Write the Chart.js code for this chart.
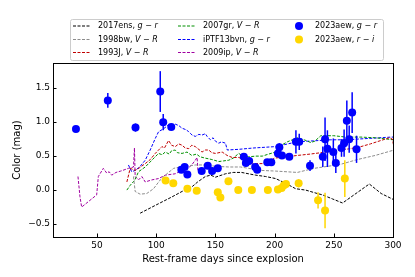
<!DOCTYPE html>
<html>
<head>
<meta charset="utf-8">
<script src="https://cdn.jsdelivr.net/npm/chart.js@4.4.1/dist/chart.umd.min.js"></script>
<style>
  body { margin: 0; background: #fff; }
  #wrap { width: 415px; height: 277px; }
</style>
</head>
<body>
<div id="wrap"><canvas id="grafico" width="415" height="277"></canvas></div>
<script>
// comparison objects (dashed curves)
const ens17X = [86.4, 102, 113.3, 121.8, 130.3, 135, 141.5, 146, 150, 158.5, 165, 172, 184, 192.4, 200.8, 209.3, 217.8, 226.3, 236, 240.4, 248.9, 257.4, 280, 290, 300.5];
const ens17Y = [-0.34, -0.20, -0.10, -0.02, 0.05, 0.12, 0.20, 0.22, 0.19, 0.24, 0.26, 0.26, 0.22, 0.20, 0.17, 0.10, 0.02, 0.0, -0.05, -0.07, -0.13, -0.19, 0.09, -0.05, -0.14];

const bw98X = [80.8, 82.2, 86.4, 92, 97.7, 103.4, 109, 114.7, 120, 126, 133, 141.5, 150, 161.3, 171.2, 178.2, 188.1, 200.8, 219.2, 233.3, 245, 255.9, 270, 285, 301];
const bw98Y = [0.20, -0.02, -0.06, -0.05, 0.02, 0.15, 0.24, 0.32, 0.34, 0.35, 0.37, 0.37, 0.35, 0.34, 0.34, 0.32, 0.29, 0.28, 0.26, 0.32, 0.35, 0.38, 0.45, 0.51, 0.59];

const j93X = [75.2, 78, 82.2, 86, 90.7, 95, 99.2, 104.8, 107, 110.4, 113, 116.1, 119, 121.8, 124.5, 127.4, 130, 133, 138.7, 141.5, 144.3, 147, 150, 155.7, 159.9, 164.2, 169.7, 175.4, 182.5, 189.6, 196.6, 199.4, 210, 219.2, 230, 239, 247, 255.9, 264, 272.9, 281, 289.8, 297, 299.5, 301];
const j93Y = [0.12, 0.32, 0.29, 0.33, 0.39, 0.45, 0.54, 0.64, 0.62, 0.73, 0.66, 0.64, 0.68, 0.66, 0.62, 0.61, 0.66, 0.64, 0.56, 0.59, 0.59, 0.55, 0.54, 0.56, 0.51, 0.48, 0.48, 0.44, 0.39, 0.39, 0.42, 0.47, 0.49, 0.51, 0.53, 0.55, 0.57, 0.59, 0.61, 0.64, 0.68, 0.73, 0.77, 0.75, 0.61];

const gr07X = [75.2, 78, 82, 85, 90.7, 96.3, 102, 105, 107.6, 111, 113, 116, 118, 121.8, 126, 130, 134, 137, 141.5, 147, 152.8, 157, 161.3, 165, 169.7, 173, 178.2, 184, 189.6, 195, 200.8, 203.7, 210.7, 215, 219.2, 225, 230.5, 234, 239, 250, 260.2, 272.9, 285, 300.5];
const gr07Y = [0.0, 0.07, 0.15, 0.27, 0.34, 0.44, 0.54, 0.52, 0.56, 0.53, 0.58, 0.59, 0.55, 0.54, 0.56, 0.51, 0.53, 0.49, 0.47, 0.45, 0.42, 0.43, 0.44, 0.47, 0.54, 0.50, 0.49, 0.50, 0.50, 0.53, 0.56, 0.64, 0.71, 0.74, 0.77, 0.74, 0.70, 0.72, 0.80, 0.80, 0.78, 0.78, 0.77, 0.74];

const bvnX = [76.5, 79.3, 82.2, 86, 90.7, 94.9, 99.2, 102, 106, 110.4, 113, 116.1, 119, 121.8, 125, 127.4, 130.3, 133, 136, 138.7, 141.5, 143, 145.8, 148, 150, 152.8, 155, 158.5, 160, 169.7, 182.5, 200.8, 219, 247.5, 260.2, 298.3, 300.5];
const bvnY = [0.37, 0.27, 0.29, 0.34, 0.44, 0.59, 0.76, 0.86, 0.90, 0.96, 0.94, 0.97, 0.95, 0.91, 0.89, 0.86, 0.81, 0.79, 0.82, 0.81, 0.83, 0.79, 0.74, 0.77, 0.72, 0.69, 0.71, 0.69, 0.59, 0.60, 0.62, 0.64, 0.71, 0.74, 0.74, 0.78, 0.78];

const ip09X = [33.9, 35.6, 37, 49.7, 51.1, 55.3, 58.2, 60.2, 62.4, 66, 70, 76.5, 80.8, 81.6, 82.2, 85, 87.9, 90.7, 96.3, 102, 107.6, 116, 121.8, 126, 130, 133, 134.5, 135.3];
const ip09Y = [0.20, -0.10, -0.25, -0.07, 0.20, 0.32, 0.25, 0.27, 0.22, 0.26, 0.28, 0.32, 0.34, 0.62, 0.20, 0.15, 0.20, 0.12, 0.15, 0.17, 0.22, 0.24, 0.29, 0.31, 0.37, 0.44, 0.48, 0.27];

// 2023aew, g-r
const grX = [32.2, 59.1, 82.5, 103.4, 105.9, 112.7, 121.2, 124, 126.3, 138.4, 143.5, 147.2, 152, 174, 175.7, 178.5, 183.6, 185.3, 193.8, 197.2, 202.8, 204, 206.2, 212.4, 218, 220.8, 229.9, 240.7, 242.6, 244.6, 249.6, 251.7, 256.5, 258.7, 261, 263, 265.5, 269.2];
const grY = [0.90, 1.32, 0.92, 1.45, 1.00, 0.93, 0.30, 0.34, 0.23, 0.28, 0.36, 0.28, 0.32, 0.49, 0.40, 0.43, 0.34, 0.30, 0.41, 0.41, 0.54, 0.63, 0.51, 0.49, 0.71, 0.71, 0.36, 0.49, 0.75, 0.61, 0.56, 0.40, 0.62, 0.69, 1.02, 0.75, 1.14, 0.60];
const grErr = [0.04, 0.11, 0.06, 0.30, 0.12, 0.03, 0.03, 0.03, 0.03, 0.03, 0.03, 0.03, 0.03, 0.03, 0.03, 0.03, 0.03, 0.03, 0.03, 0.03, 0.04, 0.06, 0.04, 0.04, 0.17, 0.12, 0.08, 0.15, 0.32, 0.27, 0.20, 0.15, 0.13, 0.20, 0.30, 0.20, 0.30, 0.20];

// 2023aew, r-i
const riX = [107.9, 114.4, 126.3, 134.2, 152, 154.2, 161, 169.3, 180.8, 194.3, 202.8, 205.9, 207.9, 209.6, 220.3, 236.7, 242.6, 259.3];
const riY = [0.14, 0.10, 0.02, -0.01, -0.03, -0.11, 0.13, 0.0, 0.0, 0.0, 0.01, 0.03, 0.07, 0.09, 0.10, -0.15, -0.30, 0.17];
const riErr = [0.03, 0.03, 0.03, 0.03, 0.03, 0.03, 0.03, 0.03, 0.03, 0.03, 0.03, 0.03, 0.03, 0.03, 0.06, 0.12, 0.26, 0.27];

const xTicks = [50, 100, 150, 200, 250, 300];
const yTicks = [-0.5, 0.0, 0.5, 1.0, 1.5];

const FONT = '"DejaVu Sans", "Liberation Sans", sans-serif';
const colores = ['#000000', '#8c8c8c', '#c00000', '#009000', '#0000ff', '#a000a0', '#0000ff', '#ffd700'];

function pts(xs, ys) {
    return xs.map((x, i) => ({ x: x, y: ys[i] }));
}

function curva(label, xs, ys, color) {
    return {
        label: label,
        data: pts(xs, ys),
        showLine: true,
        borderColor: color,
        backgroundColor: color,
        borderWidth: 1,
        borderDash: [3, 1.5],
        pointRadius: 0,
        fill: false,
        tension: 0,
        order: 2
    };
}

function puntos(label, xs, ys, err, color) {
    return {
        label: label,
        data: pts(xs, ys),
        yErr: err,
        showLine: false,
        backgroundColor: color,
        borderColor: color,
        pointRadius: 4,
        pointBorderWidth: 0,
        order: 1
    };
}

// legend entries: [dataset index, column, row, label pieces [text, italic]]
const leyenda = [
    [0, 0, 0, [['2017ens, ', 0], ['g', 1], [' \u2212 ', 0], ['r', 1]]],
    [1, 0, 1, [['1998bw, ', 0], ['V', 1], [' \u2212 ', 0], ['R', 1]]],
    [2, 0, 2, [['1993J, ', 0], ['V', 1], [' \u2212 ', 0], ['R', 1]]],
    [3, 1, 0, [['2007gr, ', 0], ['V', 1], [' \u2212 ', 0], ['R', 1]]],
    [4, 1, 1, [['iPTF13bvn, ', 0], ['g', 1], [' \u2212 ', 0], ['r', 1]]],
    [5, 1, 2, [['2009ip, ', 0], ['V', 1], [' \u2212 ', 0], ['R', 1]]],
    [6, 2, 0, [['2023aew, ', 0], ['g', 1], [' \u2212 ', 0], ['r', 1]]],
    [7, 2, 1, [['2023aew, ', 0], ['r', 1], [' \u2212 ', 0], ['i', 1]]]
];

const errorBars = {
    id: 'errorBars',
    beforeDatasetDraw(chart, args) {
        const ds = chart.data.datasets[args.index];
        if (!ds.yErr) return;
        const xs = chart.scales.x, ys = chart.scales.y, ca = chart.chartArea;
        const ctx = chart.ctx;
        ctx.save();
        ctx.beginPath();
        ctx.rect(ca.left, ca.top, ca.right - ca.left, ca.bottom - ca.top);
        ctx.clip();
        ctx.strokeStyle = colores[args.index];
        ctx.lineWidth = 1.5;
        ds.data.forEach((p, i) => {
            const px = xs.getPixelForValue(p.x);
            ctx.beginPath();
            ctx.moveTo(px, ys.getPixelForValue(p.y - ds.yErr[i]));
            ctx.lineTo(px, ys.getPixelForValue(p.y + ds.yErr[i]));
            ctx.stroke();
        });
        ctx.restore();
    }
};

const marco = {
    id: 'marco',
    afterDatasetsDraw(chart) {
        const ctx = chart.ctx, ca = chart.chartArea;
        ctx.save();
        ctx.setLineDash([]);
        ctx.strokeStyle = '#000';
        ctx.lineWidth = 1;
        ctx.strokeRect(Math.round(ca.left) + 0.5, Math.round(ca.top) + 0.5,
            Math.round(ca.right - ca.left), Math.round(ca.bottom - ca.top));
        ctx.beginPath();
        xTicks.forEach(v => {
            const px = Math.round(chart.scales.x.getPixelForValue(v)) + 0.5;
            ctx.moveTo(px, ca.bottom);
            ctx.lineTo(px, ca.bottom - 3.5);
        });
        yTicks.forEach(v => {
            const py = Math.round(chart.scales.y.getPixelForValue(v)) + 0.5;
            ctx.moveTo(ca.left, py);
            ctx.lineTo(ca.left + 3.5, py);
        });
        ctx.stroke();
        ctx.restore();
    }
};

const leyendaPlugin = {
    id: 'leyendaPlugin',
    afterDraw(chart) {
        const ctx = chart.ctx;
        const colX = [73, 178, 299];
        const textX = [98, 203, 315];
        const rowY = [26, 39.5, 52.5];
        ctx.save();
        ctx.setLineDash([]);
        ctx.fillStyle = 'rgba(255,255,255,0.8)';
        ctx.strokeStyle = '#cccccc';
        ctx.lineWidth = 1;
        ctx.beginPath();
        ctx.roundRect(70.5, 19.5, 313, 41, 2);
        ctx.fill();
        ctx.stroke();
        leyenda.forEach(([idx, c, r, parts]) => {
            const ds = chart.data.datasets[idx];
            const y = rowY[r];
            if (ds.showLine) {
                ctx.save();
                ctx.strokeStyle = colores[idx];
                ctx.lineWidth = 1.2;
                ctx.setLineDash([3, 1.5]);
                ctx.beginPath();
                ctx.moveTo(colX[c], y);
                ctx.lineTo(colX[c] + 17, y);
                ctx.stroke();
                ctx.restore();
            } else {
                ctx.fillStyle = colores[idx];
                ctx.beginPath();
                ctx.arc(colX[c], y, 4, 0, Math.PI * 2);
                ctx.fill();
            }
            let x = textX[c];
            ctx.fillStyle = '#000';
            ctx.textBaseline = 'middle';
            parts.forEach(([txt, it]) => {
                ctx.font = (it ? 'italic ' : '') + '8px ' + FONT;
                ctx.fillText(txt, x, y);
                x += ctx.measureText(txt).width;
            });
        });
        ctx.restore();
    }
};

function menos(v) {
    return String(v).replace('-', '\u2212');
}

var ctx = document.getElementById('grafico');
var myChart = new Chart(ctx, {
    type: 'scatter',
    data: {
        datasets: [
            curva('2017ens, g-r', ens17X, ens17Y, colores[0]),
            curva('1998bw, V-R', bw98X, bw98Y, colores[1]),
            curva('1993J, V-R', j93X, j93Y, colores[2]),
            curva('2007gr, V-R', gr07X, gr07Y, colores[3]),
            curva('iPTF13bvn, g-r', bvnX, bvnY, colores[4]),
            curva('2009ip, V-R', ip09X, ip09Y, colores[5]),
            puntos('2023aew, g-r', grX, grY, grErr, colores[6]),
            puntos('2023aew, r-i', riX, riY, riErr, colores[7])
        ]
    },
    options: {
        responsive: false,
        animation: false,
        devicePixelRatio: 1,
        layout: { padding: { top: 63, right: 22, bottom: 0, left: 0 } },
        plugins: {
            legend: { display: false },
            tooltip: { enabled: false }
        },
        scales: {
            x: {
                type: 'linear',
                min: 12.8,
                max: 300,
                afterBuildTicks: s => { s.ticks = xTicks.map(v => ({ value: v })); },
                afterFit: s => { s.height = 40; },
                grid: { display: false, drawTicks: false },
                border: { display: false },
                ticks: {
                    padding: 3,
                    color: '#000',
                    font: { family: FONT, size: 9 },
                    maxRotation: 0,
                    callback: v => menos(v)
                },
                title: {
                    display: true,
                    text: 'Rest-frame days since explosion',
                    color: '#000',
                    font: { family: FONT, size: 10 },
                    padding: { top: 0, bottom: 12 }
                }
            },
            y: {
                type: 'linear',
                min: -0.69,
                max: 1.87,
                afterBuildTicks: s => { s.ticks = yTicks.map(v => ({ value: v })); },
                afterFit: s => { s.width = 53; },
                grid: { display: false, drawTicks: false },
                border: { display: false },
                ticks: {
                    padding: 3,
                    color: '#000',
                    font: { family: FONT, size: 9 },
                    callback: v => menos(v.toFixed(1))
                },
                title: {
                    display: true,
                    text: 'Color (mag)',
                    color: '#000',
                    font: { family: FONT, size: 10 },
                    padding: { top: 11, bottom: 0 }
                }
            }
        }
    },
    plugins: [errorBars, marco, leyendaPlugin]
});
</script>
</body>
</html>
